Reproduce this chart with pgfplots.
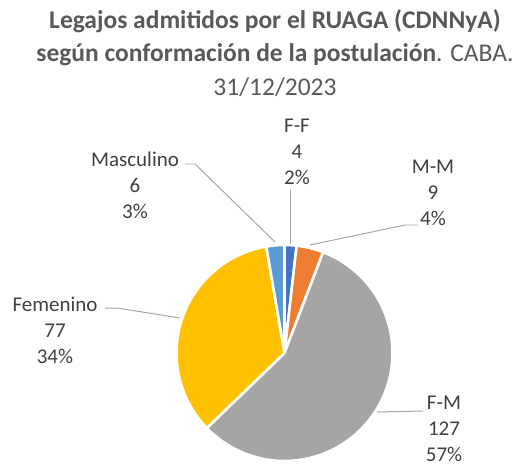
\documentclass[border=0pt]{standalone}
\usepackage{pgfplots}
\pgfplotsset{compat=1.18}
\usepackage{fontspec}
\setmainfont{Carlito}
\definecolor{sFF}{HTML}{4472C4}
\definecolor{sMM}{HTML}{ED7D31}
\definecolor{sFM}{HTML}{A5A5A5}
\definecolor{sFem}{HTML}{FFC000}
\definecolor{sMas}{HTML}{5B9BD5}
\definecolor{ttl}{HTML}{595959}
\definecolor{lbl}{HTML}{404040}
\definecolor{ldr}{HTML}{A6A6A6}

% values (clockwise from 12 o'clock): F-F, M-M, F-M, Femenino, Masculino
\def\vFF{4}\def\vMM{9}\def\vFM{127}\def\vFem{77}\def\vMas{6}
\pgfmathsetmacro\tot{\vFF+\vMM+\vFM+\vFem+\vMas}
\pgfmathsetmacro\aA{0}
\pgfmathsetmacro\aB{\aA+360*(\vFF/\tot)}
\pgfmathsetmacro\aC{\aB+360*(\vMM/\tot)}
\pgfmathsetmacro\aD{\aC+360*(\vFM/\tot)}
\pgfmathsetmacro\aE{\aD+360*(\vFem/\tot)}
\pgfmathsetmacro\aF{\aE+360*(\vMas/\tot)}
\def\cx{284.5}\def\cy{353}\def\R{108}

\newcommand\slice[3]{%
  \addplot[fill=#1, draw=white, line width=2.6pt, line join=round,
    domain=#2:#3, samples=60, variable=\t]
    ({\cx+\R*sin(\t)}, {\cy-\R*cos(\t)}) -- (axis cs:\cx,\cy) -- cycle;}

\begin{document}
\begin{tikzpicture}
\begin{axis}[width=523bp, height=468bp, scale only axis,
  xmin=0, xmax=523, ymin=0, ymax=468, y dir=reverse,
  hide axis, clip=false]
  \slice{sFF}{\aA}{\aB}
  \slice{sMM}{\aB}{\aC}
  \slice{sFM}{\aC}{\aD}
  \slice{sFem}{\aD}{\aE}
  \slice{sMas}{\aE}{\aF}
  % leader lines
  \addplot[ldr, line width=1pt] coordinates {(290,190) (290,244)};
  \addplot[ldr, line width=1pt] coordinates {(418,225) (405,225) (310,245)};
  \addplot[ldr, line width=1pt] coordinates {(185,164) (195,164) (275,242)};
  \addplot[ldr, line width=1pt] coordinates {(105,308) (117,308) (180,318)};
  \addplot[ldr, line width=1pt] coordinates {(377,412) (423,411)};
  % data labels
  \begin{scope}[every node/.style={lbl, font=\fontsize{21bp}{26bp}\selectfont, align=center, inner sep=1pt}]
    \node at (axis cs:297,152) {F-F\\4\\2\%};
    \node at (axis cs:433,193) {M-M\\9\\4\%};
    \node at (axis cs:444,429) {F-M\\127\\57\%};
    \node at (axis cs:55,330) {Femenino\\77\\34\%};
    \node at (axis cs:135,185) {Masculino\\6\\3\%};
  \end{scope}
  % title
  \begin{scope}[every node/.style={ttl, anchor=base, inner sep=0pt, font=\fontsize{25.5bp}{31bp}\selectfont}]
    \node at (axis cs:275,29) {\textbf{Legajos admitidos por el RUAGA (CDNNyA)}};
    \node at (axis cs:275,62) {\textbf{según conformación de la postulación}. CABA.};
    \node at (axis cs:275,95) {31/12/2023};
  \end{scope}
\end{axis}
\pgfresetboundingbox
\path[use as bounding box] (current axis.south west) rectangle (current axis.north east);
\end{tikzpicture}
\end{document}
